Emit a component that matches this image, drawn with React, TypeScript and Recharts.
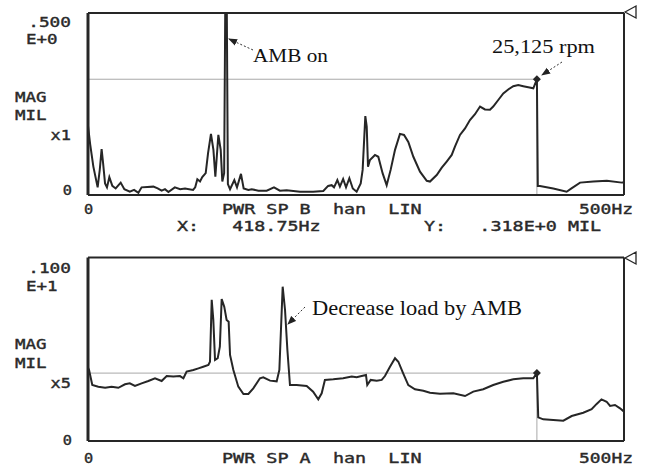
import { LineChart, Line, XAxis, YAxis, ReferenceLine, ReferenceDot } from 'recharts';

// upper trace (PWR SP B), frequency in Hz and magnitude in MIL
const freqB = [
  0, 2, 5, 9, 11, 12.7, 14, 15.9, 17.7, 19.9,
  22.7, 25.8, 30.5, 33.9, 39, 43, 47, 50, 61, 65,
  68.7, 71.8, 75, 81, 86, 90.5, 98, 100, 102, 104.5,
  106.6, 109.8, 112, 114.7, 117, 118.8, 121.6, 123.8, 125.3, 127,
  128, 129.5, 130.5, 132.5, 136.5, 139, 142.7, 145.2, 149.6, 152.7,
  159, 166.7, 173.5, 179, 185.3, 197.8, 210, 219.5, 224, 227.3,
  229.5, 232.6, 235, 238, 240.7, 243.8, 247, 250.6, 254.4, 256.2,
  258.7, 260, 261.2, 263, 267.7, 270.8, 274.8, 278.6, 282.3, 286.4,
  291, 294.8, 298.8, 303.5, 309.7, 316, 319, 325.3, 330, 334.6,
  339.3, 342.3, 347, 351.7, 356.3, 361, 365.7, 370.3, 375, 378,
  382.7, 387.4, 392, 396.7, 401.4, 406, 410.7, 415.4, 418.75, 419.6,
  421.6, 434, 446.5, 451, 459, 471.4, 484, 498, 500,
];
const magB = [
  0.19, 0.14, 0.078, 0.021, 0.07, 0.126, 0.09, 0.032, 0.021, 0.049,
  0.025, 0.018, 0.034, 0.016, 0.009, 0.014, 0.006, 0.021, 0.023, 0.018,
  0.012, 0.016, 0.008, 0.021, 0.016, 0.018, 0.014, 0.021, 0.043, 0.037,
  0.049, 0.06, 0.115, 0.168, 0.124, 0.05, 0.165, 0.124, 0.037, 0.06,
  0.5, 0.5, 0.03, 0.016, 0.041, 0.021, 0.058, 0.018, 0.014, 0.016,
  0.012, 0.012, 0.021, 0.012, 0.013, 0.009, 0.009, 0.011, 0.025, 0.027,
  0.021, 0.041, 0.023, 0.044, 0.021, 0.046, 0.018, 0.009, 0.032, 0.069,
  0.217, 0.188, 0.078, 0.096, 0.11, 0.105, 0.06, 0.027, 0.069, 0.124,
  0.168, 0.165, 0.146, 0.105, 0.064, 0.039, 0.037, 0.055, 0.075, 0.092,
  0.11, 0.133, 0.165, 0.183, 0.206, 0.222, 0.243, 0.235, 0.234, 0.243,
  0.261, 0.279, 0.29, 0.299, 0.302, 0.299, 0.296, 0.293, 0.318, 0.025,
  0.025, 0.018, 0.009, 0.018, 0.034, 0.037, 0.039, 0.034, 0.034,
];

// lower trace (PWR SP A)
const freqA = [
  0, 1, 4, 9.6, 16, 22, 28.3, 34.5, 39, 43.8,
  50, 56.3, 62.5, 68.7, 73.4, 79.6, 85.8, 89, 92, 98.3,
  103, 107.5, 112.3, 113.8, 115.4, 116.9, 118.5, 121, 123, 124.7,
  127.1, 129.3, 131.2, 132.5, 135.6, 140.2, 145, 149.6, 154.2, 160.4,
  163.5, 169.8, 176, 178.5, 181.6, 183.8, 186, 188.4, 194.6, 204,
  210, 214.8, 218, 221, 228.8, 238, 246, 250.6, 255.3, 259.3,
  260.5, 263.7, 269.3, 274, 277, 281.7, 286.4, 289.5, 294, 298.8,
  305, 312.8, 319, 328.3, 340.8, 351.7, 359.4, 368.7, 378, 387.4,
  396.7, 406, 415.4, 418.75, 420, 424.7, 434, 443.4, 451.2, 462,
  469.8, 474.5, 479, 483.8, 487, 491.6, 496.3, 500,
];
const magA = [
  0.4, 0.387, 0.305, 0.296, 0.29, 0.296, 0.29, 0.309, 0.314, 0.3,
  0.314, 0.327, 0.342, 0.327, 0.354, 0.351, 0.354, 0.342, 0.378, 0.387,
  0.396, 0.405, 0.414, 0.432, 0.769, 0.66, 0.442, 0.451, 0.514, 0.773,
  0.732, 0.66, 0.65, 0.469, 0.387, 0.296, 0.256, 0.256, 0.287, 0.342,
  0.347, 0.329, 0.325, 0.387, 0.841, 0.714, 0.496, 0.305, 0.305, 0.3,
  0.269, 0.227, 0.26, 0.333, 0.336, 0.342, 0.351, 0.347, 0.354, 0.36,
  0.305, 0.333, 0.329, 0.333, 0.354, 0.405, 0.451, 0.432, 0.369, 0.305,
  0.282, 0.274, 0.263, 0.258, 0.26, 0.245, 0.269, 0.282, 0.305, 0.323,
  0.336, 0.342, 0.342, 0.37, 0.129, 0.118, 0.115, 0.111, 0.136, 0.154,
  0.173, 0.202, 0.227, 0.214, 0.191, 0.196, 0.178, 0.16,
];

const xTicks = [0, 50, 100, 150, 200, 250, 300, 350, 400, 450, 500];
const yTicksB = [0, 0.1, 0.2, 0.3, 0.4, 0.5];
const yTicksA = [0, 0.2, 0.4, 0.6, 0.8, 1];
const cursorHz = 418.75;
const cursorB = 0.318;
const cursorA = 0.37;

const dataB = freqB.map((f, i) => ({ f, v: magB[i] }));
const dataA = freqA.map((f, i) => ({ f, v: magA[i] }));

const ink = '#262626';

const Diamond = (p: any) => (
  <polygon
    points={`${p.cx},${p.cy - 4} ${p.cx + 4},${p.cy} ${p.cx},${p.cy + 4} ${p.cx - 4},${p.cy}`}
    fill={ink}
  />
);

// mirrored axes take no room, they only draw the frame with inward ticks
const Panel = ({ data, yMax, yTicks, cursorY, height, margin }: any) => {
  const axisLine = { stroke: ink, strokeWidth: 2 };
  const tickLine = { stroke: ink, strokeWidth: 1.5 };
  return (
    <LineChart width={646} height={height} data={data} margin={margin}>
      <XAxis dataKey="f" type="number" domain={[0, 500]} ticks={xTicks} height={10}
        tick={false} mirror tickSize={5} axisLine={axisLine} tickLine={tickLine} />
      <XAxis xAxisId="top" orientation="top" dataKey="f" type="number" domain={[0, 500]}
        ticks={xTicks} height={10} tick={false} mirror tickSize={5} axisLine={axisLine} tickLine={tickLine} />
      <YAxis type="number" domain={[0, yMax]} ticks={yTicks} width={10} allowDataOverflow
        tick={false} mirror tickSize={5} axisLine={{ stroke: ink, strokeWidth: 3 }} tickLine={tickLine} />
      <YAxis yAxisId="right" orientation="right" type="number" domain={[0, yMax]} ticks={yTicks}
        width={10} tick={false} mirror tickSize={5} axisLine={axisLine} tickLine={tickLine} />
      <ReferenceLine segment={[{ x: 0, y: cursorY }, { x: cursorHz, y: cursorY }]} stroke="#a8a8a8" strokeWidth={1} />
      <ReferenceLine segment={[{ x: cursorHz, y: 0 }, { x: cursorHz, y: cursorY }]} stroke="#a8a8a8" strokeWidth={1} />
      <Line type="linear" dataKey="v" stroke={ink} strokeWidth={2} dot={false} isAnimationActive={false} />
      <ReferenceDot x={cursorHz} y={cursorY} r={4} shape={Diamond} />
    </LineChart>
  );
};

// analyzer-style wide monospace lettering, every character on an 11.2 px pitch
const Mono = ({ x, y, s, end }: any) => (
  <text
    x={x} y={y} textAnchor={end ? 'end' : 'start'}
    fontFamily='"DejaVu Sans Mono", monospace' fontSize={14.5}
    fill="#2a2a2a" stroke="#2a2a2a" strokeWidth={0.4}
    textLength={s.length * 11.2 - 2} lengthAdjust="spacingAndGlyphs"
    style={{ whiteSpace: 'pre' }}
  >
    {s}
  </text>
);

const serif: any = { fontFamily: '"Liberation Serif", "Times New Roman", serif', fill: '#111' };

const Overlay = () => (
  <svg width={646} height={470} style={{ position: 'absolute', left: 0, top: 0, pointerEvents: 'none' }}>
    <defs>
      <marker id="ah" markerWidth="9" markerHeight="8" refX="8" refY="4" orient="auto" markerUnits="userSpaceOnUse">
        <path d="M0,0.5 L9,4 L0,7.5 z" fill="#222" />
      </marker>
    </defs>

    {/* upper panel labels */}
    <Mono x={71} y={27} s=".500" end />
    <Mono x={26} y={44} s="E+0" />
    <Mono x={15} y={102} s="MAG" />
    <Mono x={15} y={120} s="MIL" />
    <Mono x={71} y={140} s="x1" end />
    <Mono x={72} y={195} s="0" end />
    <Mono x={84} y={214} s="0" />
    <Mono x={222} y={214} s="PWR SP B  han  LIN" />
    <Mono x={579} y={214} s="500Hz" />
    <Mono x={177} y={231} s="X:   418.75Hz" />
    <Mono x={424} y={231} s="Y:   .318E+0 MIL" />
    <polygon points="625,12 636,6 636,18" fill="none" stroke={ink} strokeWidth={1.3} />

    {/* lower panel labels */}
    <Mono x={71} y={273} s=".100" end />
    <Mono x={26} y={291} s="E+1" />
    <Mono x={15} y={349} s="MAG" />
    <Mono x={15} y={368} s="MIL" />
    <Mono x={71} y={388} s="x5" end />
    <Mono x={72} y={445} s="0" end />
    <Mono x={84} y={463} s="0" />
    <Mono x={222} y={463} s="PWR SP A  han  LIN" />
    <Mono x={579} y={463} s="500Hz" />
    <polygon points="625,258 636,252 636,264" fill="none" stroke={ink} strokeWidth={1.3} />

    {/* annotations */}
    <line x1={253} y1={50} x2={229} y2={39} stroke="#333" strokeWidth={1} strokeDasharray="2 2" markerEnd="url(#ah)" />
    <text {...serif} x={253} y={62} fontSize={19} textLength={75} lengthAdjust="spacingAndGlyphs">AMB on</text>
    <line x1={562} y1={62} x2={542} y2={75} stroke="#333" strokeWidth={1} strokeDasharray="2 2" markerEnd="url(#ah)" />
    <text {...serif} x={492} y={53} fontSize={19} textLength={103} lengthAdjust="spacingAndGlyphs">25,125 rpm</text>
    <line x1={305} y1={307} x2={288} y2={324} stroke="#333" strokeWidth={1} strokeDasharray="2 2" markerEnd="url(#ah)" />
    <text {...serif} x={312} y={315} fontSize={21} textLength={210} lengthAdjust="spacingAndGlyphs">Decrease load by AMB</text>
  </svg>
);

const App = () => {
  return (
    <div style={{ position: 'absolute', left: 0, top: 0, width: 646, height: 470, background: '#fff' }}>
      <div style={{ position: 'absolute', left: 0, top: 0 }}>
        <Panel data={dataB} yMax={0.5} yTicks={yTicksB} cursorY={cursorB} height={240}
          margin={{ top: 13, right: 22, bottom: 45, left: 88 }} />
      </div>
      <div style={{ position: 'absolute', left: 0, top: 240 }}>
        <Panel data={dataA} yMax={1} yTicks={yTicksA} cursorY={cursorA} height={230}
          margin={{ top: 17.5, right: 22, bottom: 29, left: 88 }} />
      </div>
      <Overlay />
    </div>
  );
};

export default App;
